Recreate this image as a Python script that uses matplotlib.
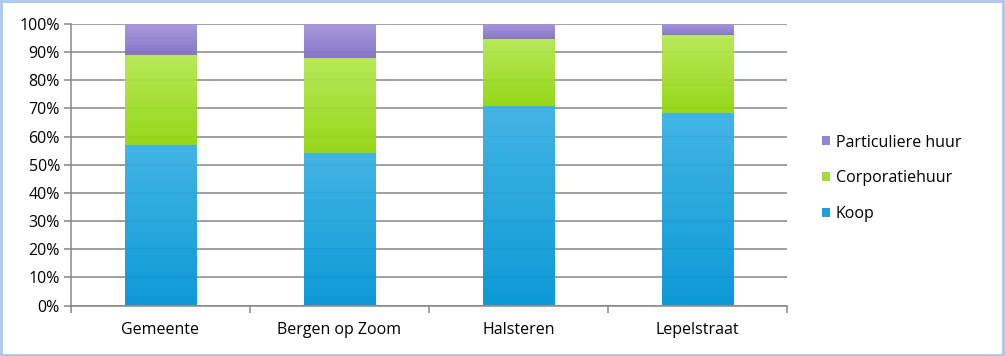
import numpy as np
import matplotlib
matplotlib.use('Agg')
import matplotlib.pyplot as plt
from matplotlib.colors import LinearSegmentedColormap
from matplotlib.patches import Patch, Rectangle

plt.rcParams['font.family'] = ['Open Sans', 'DejaVu Sans']

# data (shares in %)
categories = ['Gemeente', 'Bergen op Zoom', 'Halsteren', 'Lepelstraat']
koop = [57, 54, 71, 68.5]
corporatie = [32, 34, 23.5, 27.5]
particulier = [11, 12, 5.5, 4]

series_names = ['Koop', 'Corporatiehuur', 'Particuliere huur']
# (top colour, bottom colour) for the gradient fill
grad_colors = [('#3AB1E4', '#0094D4'),
               ('#B4E851', '#92D50E'),
               ('#A394DA', '#8070C6')]
legend_colors = ['#1E9FD9', '#A6DC3A', '#9486D0']

fig = plt.figure(figsize=(10.05, 3.56), dpi=100)
ax = fig.add_axes([71 / 1005, 50.5 / 356, (787 - 71) / 1005, (305.5 - 24) / 356])

x = np.arange(len(categories))
bottoms = np.zeros(len(categories))
grad = np.linspace(1, 0, 256).reshape(-1, 1)

for vals, (ctop, cbot), name in zip([koop, corporatie, particulier], grad_colors, series_names):
    bars = ax.bar(x, vals, width=0.4, bottom=bottoms, color='none', edgecolor='none',
                  zorder=3, label=name)
    cmap = LinearSegmentedColormap.from_list(name, [cbot, ctop])
    for rect in bars:
        x0, y0 = rect.get_x(), rect.get_y()
        im = ax.imshow(grad, cmap=cmap, vmin=0, vmax=1, aspect='auto', alpha=0.95,
                       extent=(x0, x0 + rect.get_width(), y0, y0 + rect.get_height()),
                       zorder=3)
        im.set_clip_path(rect)
    bottoms += np.array(vals)

ax.set_xlim(-0.5, len(categories) - 0.5)
ax.set_ylim(0, 100)
ax.set_yticks(np.arange(0, 101, 10))
ax.set_yticklabels(['%d%%' % v for v in range(0, 101, 10)])
ax.set_xticks(x)
ax.set_xticklabels(categories)
ax.set_xticks(np.arange(-0.5, len(categories)), minor=True)

ax.grid(axis='y', color='#868686', linewidth=1.1, zorder=1)
ax.set_axisbelow(True)
for s in ['top', 'right']:
    ax.spines[s].set_visible(False)
for s in ['left', 'bottom']:
    ax.spines[s].set_color('#868686')
    ax.spines[s].set_linewidth(1.1)
ax.tick_params(axis='y', length=5, width=1.1, color='#868686', labelsize=11.5,
               labelcolor='black', pad=3)
ax.tick_params(axis='x', which='major', length=0, labelsize=11.5, labelcolor='black', pad=12)
ax.tick_params(axis='x', which='minor', length=5, width=1.1, color='#868686')

handles = [Patch(facecolor=c, edgecolor='none') for c in legend_colors]
leg = fig.legend(handles[::-1], series_names[::-1], loc='center left',
                 bbox_to_anchor=(816 / 1005, 177.5 / 356), frameon=False, fontsize=11.5,
                 handlelength=0.5, handleheight=0.5, handletextpad=0.35,
                 labelspacing=1.25, borderaxespad=0)
for t in leg.get_texts():
    t.set_color('black')

# light blue frame around the chart area
fig.patches.append(Rectangle((0.001, 0.002), 0.997, 0.995, transform=fig.transFigure,
                             fill=False, edgecolor='#A9C5EC', linewidth=2))

fig.savefig('out.png', dpi=100)
